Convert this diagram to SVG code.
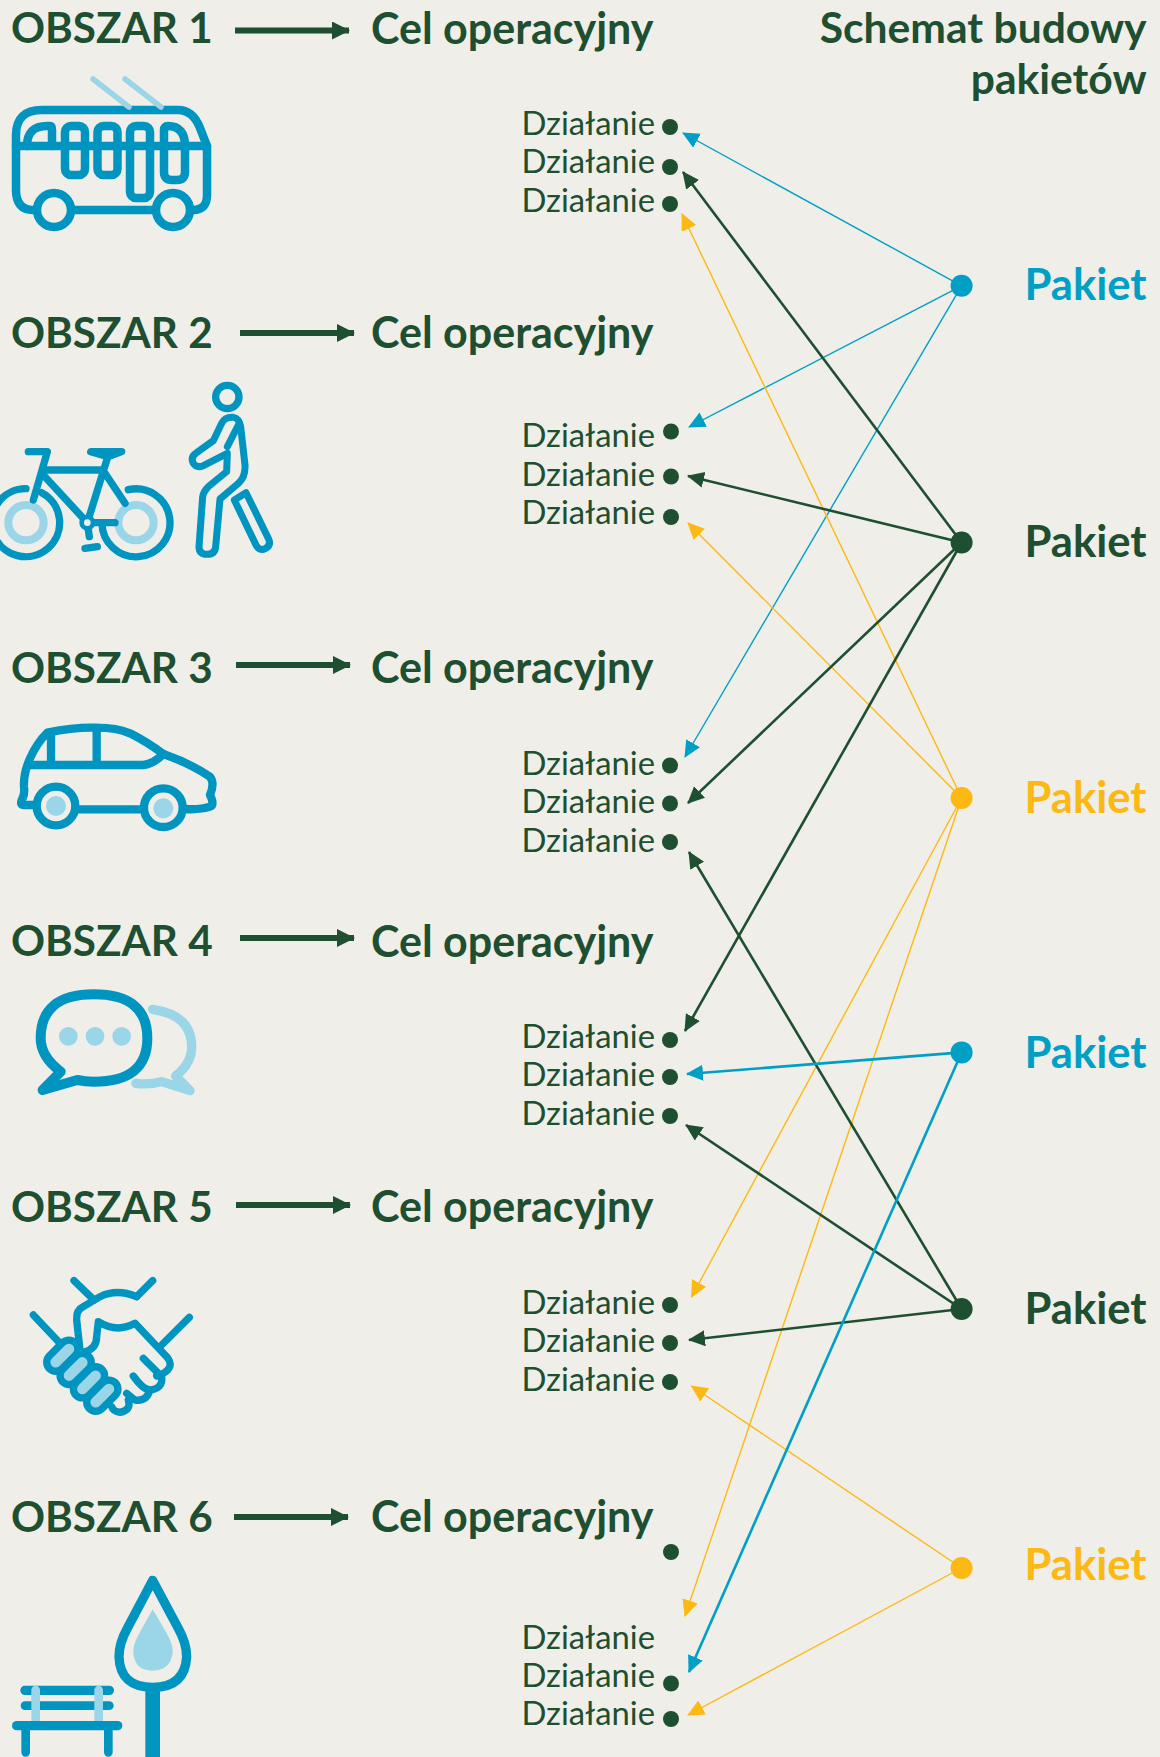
<svg xmlns="http://www.w3.org/2000/svg" width="1160" height="1757" viewBox="0 0 1160 1757">
<style>
.h{font-family:Lato,"Liberation Sans",sans-serif;font-weight:700;font-size:43px;fill:#1d4f30}
.o{font-size:42.200px}
.p{font-size:43.600px}
.t{font-size:42.600px}
.d{font-family:Lato,"Liberation Sans",sans-serif;font-weight:400;font-size:32.800px;fill:#1d4f30;text-anchor:end}
.r{text-anchor:end}
.dot{fill:#1d4f30}
.i{fill:none;stroke:#0095c0;stroke-linecap:round;stroke-linejoin:round}
.l{fill:none;stroke:#9bd5e8;stroke-linecap:round;stroke-linejoin:round}
.lf{fill:#9bd5e8;stroke:none}
.big{stroke:#1d4f30;stroke-width:6}
.cb{stroke:#00a0c6;fill:none}
.cd{stroke:#1d4f30;fill:none}
.cy{stroke:#fdb913;fill:none}
</style>
<defs>
<marker id="mb" markerUnits="userSpaceOnUse" markerWidth="20" markerHeight="20" refX="16" refY="8" orient="auto"><path d="M0 0L17 8L0 16Z" fill="#00a0c6"/></marker>
<marker id="md" markerUnits="userSpaceOnUse" markerWidth="20" markerHeight="20" refX="16" refY="8" orient="auto"><path d="M0 0L17 8L0 16Z" fill="#1d4f30"/></marker>
<marker id="my" markerUnits="userSpaceOnUse" markerWidth="20" markerHeight="20" refX="16" refY="8" orient="auto"><path d="M0 0L17 8L0 16Z" fill="#fdb913"/></marker>
<marker id="mh" markerUnits="userSpaceOnUse" markerWidth="20" markerHeight="20" refX="17" refY="9" orient="auto"><path d="M0 0L18 9L0 18Z" fill="#1d4f30"/></marker>
</defs>
<rect width="1160" height="1757" fill="#efeee8"/>

<g id="connectors">
<g stroke-width="1.4">
<path class="cb" d="M961.6 285.8L683 133" marker-end="url(#mb)"/>
<path class="cb" d="M961.6 285.8L689 427" marker-end="url(#mb)"/>
<path class="cb" d="M961.6 285.8L685 757" marker-end="url(#mb)"/>
<path class="cy" d="M961.6 798L682 214" marker-end="url(#my)"/>
<path class="cy" d="M961.6 798L688 523" marker-end="url(#my)"/>
<path class="cy" d="M961.6 798L691.5 1297" marker-end="url(#my)"/>
<path class="cy" d="M961.6 798L685 1616" marker-end="url(#my)"/>
<path class="cy" d="M961.6 1568L691.5 1386" marker-end="url(#my)"/>
<path class="cy" d="M961.6 1568L688 1715" marker-end="url(#my)"/>
</g>
<g stroke-width="2.6">
<path class="cd" d="M961.6 542.5L683 172" marker-end="url(#md)"/>
<path class="cd" d="M961.6 542.5L688 476" marker-end="url(#md)"/>
<path class="cd" d="M961.6 542.5L688 803" marker-end="url(#md)"/>
<path class="cd" d="M961.6 542.5L685 1031" marker-end="url(#md)"/>
<path class="cd" d="M961.6 1309L689 852" marker-end="url(#md)"/>
<path class="cd" d="M961.6 1309L686 1125" marker-end="url(#md)"/>
<path class="cd" d="M961.6 1309L689 1340" marker-end="url(#md)"/>
<path class="cb" d="M961.6 1052.4L687 1074" marker-end="url(#mb)"/>
<path class="cb" d="M961.6 1052.4L689 1672" marker-end="url(#mb)"/>
</g>
<path class="big" d="M235 30.5H349" marker-end="url(#mh)"/>
<path class="big" d="M240 333H354" marker-end="url(#mh)"/>
<path class="big" d="M236 665H350" marker-end="url(#mh)"/>
<path class="big" d="M240 938H354" marker-end="url(#mh)"/>
<path class="big" d="M236 1205H350" marker-end="url(#mh)"/>
<path class="big" d="M234 1517H348" marker-end="url(#mh)"/>
</g>

<g id="title"><text class="h r t" x="1146.6" y="43">Schemat budowy</text><text class="h r t" x="1146.6" y="94">pakietów</text></g>

<g id="obszar1"><text class="h o" x="11" y="43">OBSZAR 1</text><text class="h" x="371" y="43.500">Cel operacyjny</text></g>
<g id="obszar2"><text class="h o" x="11" y="348">OBSZAR 2</text><text class="h" x="371" y="348">Cel operacyjny</text></g>
<g id="obszar3"><text class="h o" x="11" y="683">OBSZAR 3</text><text class="h" x="371" y="683">Cel operacyjny</text></g>
<g id="obszar4"><text class="h o" x="11" y="956">OBSZAR 4</text><text class="h" x="371" y="957">Cel operacyjny</text></g>
<g id="obszar5"><text class="h o" x="11" y="1222">OBSZAR 5</text><text class="h" x="371" y="1222">Cel operacyjny</text></g>
<g id="obszar6"><text class="h o" x="11" y="1532">OBSZAR 6</text><text class="h" x="371" y="1532">Cel operacyjny</text></g>

<g id="icon-bus">
<g class="i" stroke-width="8.500">
<path d="M34 210H33Q16 210 16 190V135Q16 110 42 110H178Q193 110 200 128L207 146V195Q207 210 193 210H192M72 210H155"/>
<path d="M16 146H207"/>
<path d="M27 146Q27 126 47 126H50Q52 126 52 130V146"/>
<rect x="65" y="126" width="20" height="49" rx="6"/>
<rect x="97.500" y="126" width="20" height="49" rx="6"/>
<rect x="130" y="126" width="20" height="72" rx="6"/>
<path d="M164 146V130Q164 126 168 126Q185 126 185 146V172Q185 180 177 180H172Q164 180 164 172Z"/>
<circle cx="54" cy="210" r="17"/>
<circle cx="173" cy="210" r="17"/>
</g>
<path class="l" stroke-width="5.500" d="M93 79L129 107M125 79L161 107"/>
</g>

<g id="icon-bike-walker" transform="translate(0,300) scale(.33333)">
<circle cx="78" cy="668" r="53" class="l" stroke-width="24"/>
<circle cx="408" cy="668" r="53" class="l" stroke-width="24"/>
<g class="i" stroke-width="22">
<path d="M78 566A102 102 0 1 0 125 578"/>
<path d="M385 569A102 102 0 1 1 306 668"/>
<path d="M85 455H142L100 600M130 510H310M325 465L262 668M125 520L262 668M262 668H345M315 520L375 610"/>
<path d="M272 455H365L325 470Z"/>
<path d="M262 668L268 710M255 745L292 740"/>
<circle cx="262" cy="668" r="17" fill="#efeee8" stroke-width="14"/>
<circle cx="682" cy="291" r="35"/>
<path stroke-width="21" d="M700 352Q718 355 722 380L735 495Q737 530 715 550L660 597L647 740Q645 763 622 763Q597 763 597 740L608 590Q610 575 625 560L680 515L682 460L610 497Q590 505 580 490Q570 470 590 458L640 422L665 370Q675 350 700 352ZM715 375L682 440"/>
<path stroke-width="21" d="M738 578L703 600L768 735Q778 755 797 745Q815 735 805 715Z"/>
</g>
</g>

<g id="icon-car" transform="translate(0,640) scale(.33333)">
<g class="i" stroke-width="25">
<path d="M100 495H70Q60 495 65 480Q75 465 72 440Q70 400 90 355Q110 310 142 278Q220 262 280 263Q350 262 390 280Q440 305 490 342Q570 370 630 410Q645 430 630 465Q645 495 630 500Q600 510 555 507M230 508H425"/>
<path d="M90 375H430Q460 372 490 342M153 285V375M290 265V375"/>
<circle cx="168" cy="498" r="58" fill="#efeee8"/>
<circle cx="490" cy="503" r="58" fill="#efeee8"/>
</g>
<circle cx="168" cy="498" r="30" class="lf"/>
<circle cx="490" cy="505" r="30" class="lf"/>
</g>

<g id="icon-chat" transform="translate(0,950) scale(.33333)">
<path class="i" stroke-width="30" d="M182 365Q122 320 122 265Q122 133 282 133Q442 133 442 265Q442 395 282 395Q255 395 232 390L128 420Z"/>
<circle cx="205" cy="259" r="28" class="lf"/><circle cx="285" cy="259" r="28" class="lf"/><circle cx="365" cy="259" r="28" class="lf"/>
<path class="l" stroke-width="28" d="M458 178Q575 195 575 290Q575 340 527 378L570 422L485 395Q445 405 408 400"/>
</g>

<g id="icon-handshake" transform="translate(0,1250) scale(.33333)">
<g class="i" stroke-width="22">
<path d="M100 195L180 280M222 92L282 150M458 92L410 140M568 202L485 285"/>
<path d="M410 140Q350 115 300 140L250 170Q228 180 230 210L240 300"/>
<path d="M255 305Q290 295 290 260L295 215Q350 250 405 220L500 320Q525 350 490 370L470 378M430 325L485 380Q490 415 450 420Q430 420 400 378M450 420Q440 455 405 450L380 430M385 450Q395 480 360 487Q340 485 335 470"/>
</g>
<g stroke="#0095c0" stroke-width="22" fill="#9bd5e8">
<rect x="-55" y="-27" width="110" height="54" rx="27" transform="translate(187,317) rotate(-45)"/>
<rect x="-55" y="-27" width="110" height="54" rx="27" transform="translate(227,357) rotate(-45)"/>
<rect x="-55" y="-27" width="110" height="54" rx="27" transform="translate(267,397) rotate(-45)"/>
<rect x="-55" y="-27" width="110" height="54" rx="27" transform="translate(307,437) rotate(-45)"/>
</g>
</g>

<g id="icon-park" transform="translate(0,1550) scale(.33333)">
<path class="i" stroke-width="28" d="M458 91L535 235Q560 280 560 320Q555 412 458 412Q360 412 357 320Q357 280 382 235Z"/>
<path class="lf" d="M458 178L500 250Q520 285 518 310Q510 362 458 362Q405 362 400 310Q398 285 418 250Z"/>
<path d="M458 412V640" stroke="#0095c0" stroke-width="44"/>
<g class="i">
<path stroke-width="28" d="M75 421H328"/>
<path stroke-width="26" d="M75 467H328"/>
<path stroke-width="26" d="M77 530V607M325 530V607"/>
</g>
<path class="l" stroke-width="26" d="M107 420V515M296 420V515"/>
<path class="i" stroke-width="28" d="M50 527H353"/>
</g>

<g id="actions1"><text class="d" x="655" y="135">Działanie</text><text class="d" x="655" y="173">Działanie</text><text class="d" x="655" y="212">Działanie</text><circle class="dot" cx="670" cy="127" r="8"/><circle class="dot" cx="670" cy="167" r="8"/><circle class="dot" cx="670" cy="204" r="8"/></g>
<g id="actions2"><text class="d" x="655" y="446.500">Działanie</text><text class="d" x="655" y="486">Działanie</text><text class="d" x="655" y="524">Działanie</text><circle class="dot" cx="671" cy="431.500" r="8"/><circle class="dot" cx="671" cy="476.500" r="8"/><circle class="dot" cx="671" cy="517" r="8"/></g>
<g id="actions3"><text class="d" x="655" y="775">Działanie</text><text class="d" x="655" y="813">Działanie</text><text class="d" x="655" y="852">Działanie</text><circle class="dot" cx="670" cy="765.500" r="8"/><circle class="dot" cx="670" cy="803.500" r="8"/><circle class="dot" cx="670" cy="842" r="8"/></g>
<g id="actions4"><text class="d" x="655" y="1048">Działanie</text><text class="d" x="655" y="1086">Działanie</text><text class="d" x="655" y="1124.500">Działanie</text><circle class="dot" cx="670" cy="1040" r="8"/><circle class="dot" cx="670" cy="1077" r="8"/><circle class="dot" cx="670" cy="1116" r="8"/></g>
<g id="actions5"><text class="d" x="655" y="1314">Działanie</text><text class="d" x="655" y="1352">Działanie</text><text class="d" x="655" y="1391">Działanie</text><circle class="dot" cx="670" cy="1305" r="8"/><circle class="dot" cx="670" cy="1343" r="8"/><circle class="dot" cx="670" cy="1382" r="8"/></g>
<g id="actions6"><text class="d" x="655" y="1649">Działanie</text><text class="d" x="655" y="1687">Działanie</text><text class="d" x="655" y="1725">Działanie</text><circle class="dot" cx="671" cy="1552" r="8"/><circle class="dot" cx="671" cy="1683.500" r="8"/><circle class="dot" cx="671" cy="1719" r="8"/></g>

<g id="pakiet1"><circle cx="961.600" cy="285.800" r="11" fill="#00a0c6"/><text class="h r p" style="fill:#00a0c6" x="1146.600" y="300">Pakiet</text></g>
<g id="pakiet2"><circle cx="961.600" cy="542.500" r="11" fill="#1d4f30"/><text class="h r p" x="1146.600" y="556.500">Pakiet</text></g>
<g id="pakiet3"><circle cx="961.600" cy="798" r="11" fill="#fdb913"/><text class="h r p" style="fill:#fdb913" x="1146.600" y="812.500">Pakiet</text></g>
<g id="pakiet4"><circle cx="961.600" cy="1052.400" r="11" fill="#00a0c6"/><text class="h r p" style="fill:#00a0c6" x="1146.600" y="1068">Pakiet</text></g>
<g id="pakiet5"><circle cx="961.600" cy="1309" r="11" fill="#1d4f30"/><text class="h r p" x="1146.600" y="1324">Pakiet</text></g>
<g id="pakiet6"><circle cx="961.600" cy="1568" r="11" fill="#fdb913"/><text class="h r p" style="fill:#fdb913" x="1146.600" y="1580">Pakiet</text></g>
</svg>
